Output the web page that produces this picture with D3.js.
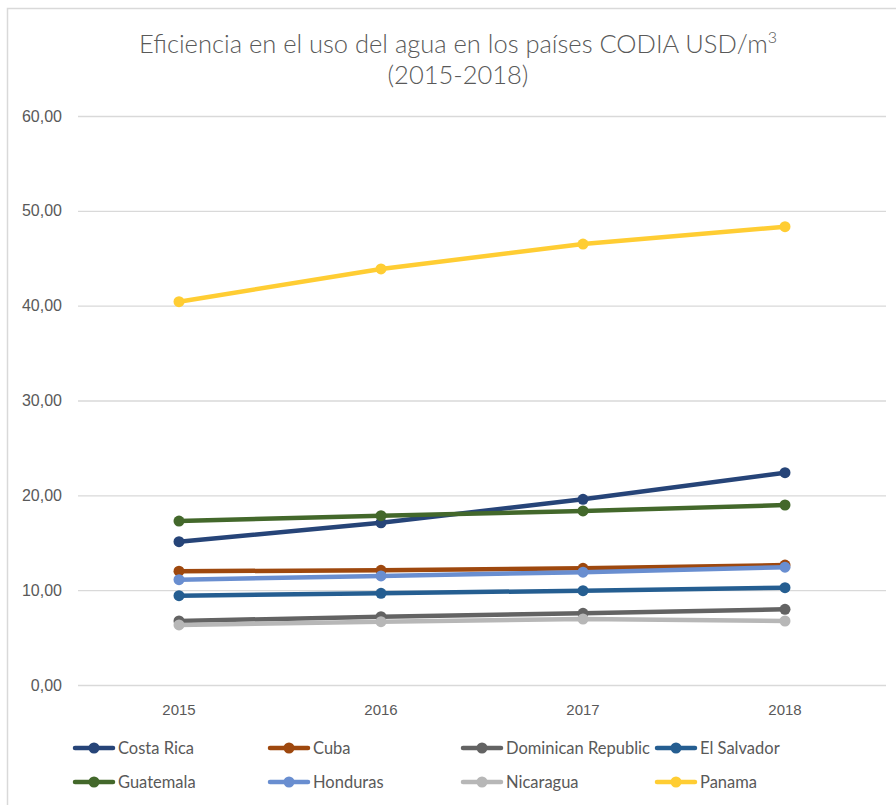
<!DOCTYPE html>
<html>
<head>
<meta charset="utf-8">
<script src="https://cdn.jsdelivr.net/npm/d3@7"></script>
<style>
  html, body { margin: 0; padding: 0; background: #fff; }
  svg { display: block; font-family: Lato, "Open Sans", sans-serif; }
</style>
</head>
<body>
<div id="chart"></div>
<script>
const years = ["2015", "2016", "2017", "2018"];
const seriesNames = ["Costa Rica", "Cuba", "Dominican Republic", "El Salvador", "Guatemala", "Honduras", "Nicaragua", "Panama"];
const seriesColors = ["#264478", "#9E480E", "#636363", "#255E91", "#43682B", "#698ED0", "#B7B7B7", "#FFCD33"];
const costaRica = [15.11, 17.11, 19.58, 22.39];
const cuba = [12.00, 12.09, 12.30, 12.65];
const dominicanRepublic = [6.75, 7.20, 7.56, 7.98];
const elSalvador = [9.42, 9.67, 9.95, 10.26];
const guatemala = [17.29, 17.85, 18.35, 18.98];
const honduras = [11.10, 11.50, 11.90, 12.42];
const nicaragua = [6.33, 6.68, 6.96, 6.75];
const panama = [40.42, 43.87, 46.50, 48.33];
const yTicks = [0, 10, 20, 30, 40, 50, 60];
const drawOrder = [0, 1, 2, 3, 4, 5, 6, 7];

const seriesValues = [costaRica, cuba, dominicanRepublic, elSalvador, guatemala, honduras, nicaragua, panama];

const W = 896, H = 805;
const svg = d3.select("#chart").append("svg").attr("width", W).attr("height", H);

// outer chart border
svg.append("rect").attr("x", 7.5).attr("y", 8.5).attr("width", W + 20).attr("height", H + 20)
  .attr("fill", "none").attr("stroke", "#d9d9d9").attr("stroke-width", 1.5);

const plotLeft = 78, plotRight = 886, plotTop = 116, plotBottom = 685;

const x = d3.scaleBand().domain(years).range([plotLeft, plotRight]);
const y = d3.scaleLinear().domain([0, 60]).range([plotBottom, plotTop]);

// title
const title = svg.append("text").attr("x", 458).attr("y", 53).attr("text-anchor", "middle")
  .attr("fill", "#595959").style("font-size", "25.5px").style("font-weight", 300);
title.append("tspan").text("Eficiencia en el uso del agua en los países CODIA USD/m");
title.append("tspan").attr("dy", -10).style("font-size", "16px").text("3");
svg.append("text").attr("x", 458).attr("y", 84).attr("text-anchor", "middle")
  .attr("fill", "#595959").style("font-size", "25.5px").style("font-weight", 300).text("(2015-2018)");

// gridlines + y axis
const yAxis = d3.axisLeft(y).tickValues(yTicks).tickSize(-(plotRight - plotLeft))
  .tickPadding(16).tickFormat(d => d3.format(".2f")(d).replace(".", ","));
const gy = svg.append("g").attr("transform", `translate(${plotLeft},0)`).call(yAxis);
gy.select(".domain").remove();
gy.selectAll(".tick line").attr("stroke", "#d9d9d9").attr("stroke-width", 1.3);
gy.selectAll(".tick text").attr("fill", "#595959").style("font-size", "16px");

// x axis labels
const xAxis = d3.axisBottom(x).tickSize(0).tickPadding(19);
const gx = svg.append("g").attr("transform", `translate(0,${plotBottom})`).call(xAxis);
gx.select(".domain").remove();
gx.selectAll(".tick text").attr("fill", "#595959").style("font-size", "15px");

const line = d3.line().x((d, i) => x(years[i]) + x.bandwidth() / 2).y(d => y(d));

drawOrder.forEach(si => {
  const g = svg.append("g");
  g.append("path").datum(seriesValues[si]).attr("d", line).attr("fill", "none")
    .attr("stroke", seriesColors[si]).attr("stroke-width", 4.5).attr("stroke-linejoin", "round").attr("stroke-linecap", "round");
  g.selectAll("circle").data(seriesValues[si]).join("circle")
    .attr("cx", (d, i) => x(years[i]) + x.bandwidth() / 2).attr("cy", d => y(d)).attr("r", 5.5)
    .attr("fill", seriesColors[si]);
});

// legend
const legCols = [75, 270, 463, 657];
const legRows = [748, 782];
seriesNames.forEach((name, i) => {
  const lx = legCols[i % 4], ly = legRows[Math.floor(i / 4)];
  const g = svg.append("g").attr("transform", `translate(${lx},${ly})`);
  g.append("line").attr("x1", 0).attr("x2", 38).attr("y1", 0).attr("y2", 0)
    .attr("stroke", seriesColors[i]).attr("stroke-width", 4.5).attr("stroke-linecap", "round");
  g.append("circle").attr("cx", 19).attr("cy", 0).attr("r", 5.5).attr("fill", seriesColors[i]);
  g.append("text").attr("x", 43).attr("y", 6).attr("fill", "#595959").style("font-size", "16.5px").text(name);
});
</script>
</body>
</html>
